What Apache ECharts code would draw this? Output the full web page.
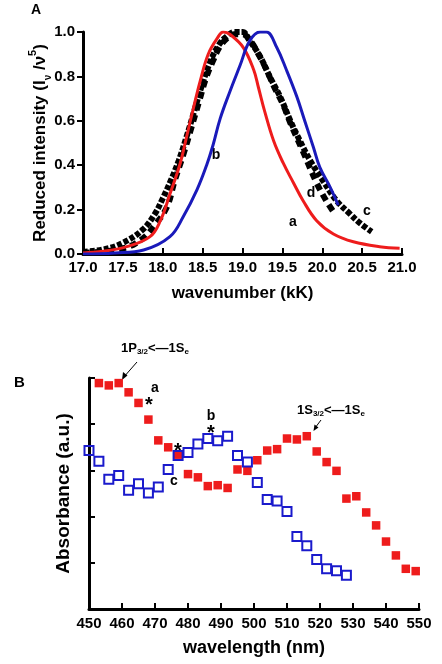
<!DOCTYPE html>
<html><head><meta charset="utf-8">
<script src="https://cdn.jsdelivr.net/npm/echarts@6/dist/echarts.min.js"></script>
<style>html,body{margin:0;padding:0;background:#fff}#c{width:442px;height:664px}</style>
</head><body><div id="c"></div>
<script>
// Panel A: reduced intensity curves
const aX = [17.0, 17.25, 17.55, 17.84, 17.97, 18.09, 18.22, 18.30, 18.38, 18.47, 18.57, 18.68, 18.76, 18.84, 19.01, 19.14, 19.20, 19.28, 19.39, 19.51, 19.64, 19.76, 19.93, 20.14, 20.39, 20.72, 20.97];
const aY = [0.005, 0.012, 0.033, 0.078, 0.15, 0.27, 0.41, 0.53, 0.65, 0.78, 0.90, 0.97, 1.0, 0.99, 0.93, 0.83, 0.75, 0.64, 0.51, 0.41, 0.32, 0.24, 0.15, 0.09, 0.055, 0.033, 0.026];
const bX = [17.0, 17.4, 17.76, 18.09, 18.26, 18.43, 18.55, 18.63, 18.72, 18.84, 18.97, 19.09, 19.22, 19.30, 19.43, 19.55, 19.68, 19.78, 19.89, 19.97, 20.1, 20.2];
const bY = [0.0, 0.005, 0.018, 0.078, 0.17, 0.29, 0.40, 0.49, 0.61, 0.73, 0.85, 0.96, 1.0, 1.0, 0.93, 0.83, 0.71, 0.60, 0.48, 0.39, 0.30, 0.22];
const cX = [17.0, 17.25, 17.5, 17.75, 17.9, 18.0, 18.1, 18.2, 18.3, 18.4, 18.5, 18.6, 18.7, 18.8, 18.9, 19.0, 19.09, 19.22, 19.34, 19.47, 19.6, 19.72, 19.85, 20.01, 20.18, 20.35, 20.47, 20.62];
const cY = [0.01, 0.02, 0.05, 0.11, 0.18, 0.25, 0.33, 0.42, 0.53, 0.65, 0.77, 0.87, 0.94, 0.98, 1.0, 1.0, 0.96, 0.89, 0.80, 0.71, 0.60, 0.51, 0.42, 0.33, 0.24, 0.18, 0.14, 0.10];
const dX = [17.0, 17.5, 17.75, 17.9, 18.05, 18.15, 18.26, 18.36, 18.45, 18.55, 18.63, 18.71, 18.8, 18.9, 19.0, 19.1, 19.2, 19.3, 19.4, 19.5, 19.6, 19.76, 19.93, 20.05, 20.16];
const dY = [0.005, 0.025, 0.07, 0.13, 0.21, 0.33, 0.45, 0.57, 0.68, 0.80, 0.87, 0.93, 0.97, 0.99, 0.99, 0.96, 0.90, 0.83, 0.75, 0.68, 0.59, 0.46, 0.32, 0.24, 0.18];
const aTicks = ['17.0','17.5','18.0','18.5','19.0','19.5','20.0','20.5','21.0'];

// Panel B: absorbance
const redX = [453, 456, 459, 462, 465, 468, 471, 474, 477, 480, 483, 486, 489, 492, 495, 498, 501, 504, 507, 510, 513, 516, 519, 522, 525, 528, 531, 534, 537, 540, 543, 546, 549];
const redY = [4.89, 4.84, 4.89, 4.69, 4.46, 4.10, 3.65, 3.50, 3.34, 2.92, 2.85, 2.66, 2.68, 2.62, 3.02, 2.99, 3.22, 3.43, 3.46, 3.69, 3.67, 3.74, 3.41, 3.18, 2.99, 2.39, 2.44, 2.09, 1.81, 1.46, 1.16, 0.87, 0.82];
const blueX = [450, 453, 456, 459, 462, 465, 468, 471, 474, 477, 480, 483, 486, 489, 492, 495, 498, 501, 504, 507, 510, 513, 516, 519, 522, 525, 528];
const blueY = [3.43, 3.20, 2.81, 2.89, 2.57, 2.71, 2.51, 2.64, 3.02, 3.32, 3.39, 3.57, 3.69, 3.64, 3.74, 3.32, 3.18, 2.74, 2.37, 2.34, 2.11, 1.57, 1.37, 1.07, 0.87, 0.83, 0.73];

const zip = (xs, ys) => xs.map((x, i) => [x, ys[i]]);
const FF = '"Liberation Sans", Arial, sans-serif';
const bold = { fontFamily: FF, fontWeight: 'bold', color: '#000' };

const chart = echarts.init(document.getElementById('c'), null, { renderer: 'canvas' });
const option = {
  backgroundColor: '#fff',
  animation: false,
  grid: [
    { left: 83, top: 32, width: 319, height: 222 },
    { left: 89, top: 378, width: 330, height: 231 }
  ],
  xAxis: [
    { gridIndex: 0, type: 'value', min: 17, max: 21, interval: 0.5,
      name: 'wavenumber (kK)', nameLocation: 'middle', nameGap: 31, nameMoveOverlap: false,
      nameTextStyle: Object.assign({ fontSize: 17 }, bold),
      axisLine: { lineStyle: { color: '#000', width: 3 } },
      axisTick: { inside: true, length: 6, lineStyle: { color: '#000', width: 2 } },
      axisLabel: Object.assign({ fontSize: 15, margin: 6, formatter: v => aTicks[Math.round((v - 17) / 0.5)] }, bold),
      splitLine: { show: false } },
    { gridIndex: 1, type: 'value', min: 450, max: 550, interval: 10,
      name: 'wavelength (nm)', nameLocation: 'middle', nameGap: 30, nameMoveOverlap: false,
      nameTextStyle: Object.assign({ fontSize: 18 }, bold),
      axisLine: { lineStyle: { color: '#000', width: 3 } },
      axisTick: { inside: true, length: 6, lineStyle: { color: '#000', width: 2 } },
      axisLabel: Object.assign({ fontSize: 15, margin: 7 }, bold),
      splitLine: { show: false } }
  ],
  yAxis: [
    { gridIndex: 0, type: 'value', min: 0, max: 1, interval: 0.2,
      name: '{t|Reduced intensity (I}{sub|ν}{t| /ν}{sup|5}{t|)}', nameLocation: 'middle', nameGap: 30, nameRotate: 90, nameMoveOverlap: false,
      nameTextStyle: Object.assign({ fontSize: 17, rich: {
        t: Object.assign({ fontSize: 17, lineHeight: 20 }, bold),
        sub: Object.assign({ fontSize: 10, verticalAlign: 'bottom', lineHeight: 14 }, bold),
        sup: Object.assign({ fontSize: 11, verticalAlign: 'top', lineHeight: 26 }, bold)
      } }, bold),
      axisLine: { lineStyle: { color: '#000', width: 3 } },
      axisTick: { inside: false, length: 6, lineStyle: { color: '#000', width: 2 } },
      axisLabel: Object.assign({ fontSize: 15, margin: 8, formatter: v => v.toFixed(1) }, bold),
      splitLine: { show: false } },
    { gridIndex: 1, type: 'value', min: 0, max: 5, interval: 1,
      name: 'Absorbance (a.u.)', nameLocation: 'middle', nameGap: 16, nameRotate: 90, nameMoveOverlap: false,
      nameTextStyle: Object.assign({ fontSize: 19 }, bold),
      axisLine: { lineStyle: { color: '#000', width: 3 } },
      axisTick: { inside: true, length: 6, lineStyle: { color: '#000', width: 2 } },
      axisLabel: { show: false },
      splitLine: { show: false } }
  ],
  series: [
    { name: 'c', type: 'line', xAxisIndex: 0, yAxisIndex: 0, data: zip(cX, cY), smooth: 0.4, showSymbol: false,
      lineStyle: { color: '#000', width: 6, type: [5, 2], cap: 'butt' } },
    { name: 'd', type: 'line', xAxisIndex: 0, yAxisIndex: 0, data: zip(dX, dY), smooth: 0.4, showSymbol: false,
      lineStyle: { color: '#000', width: 6, type: [7, 5], cap: 'butt' } },
    { name: 'a', type: 'line', xAxisIndex: 0, yAxisIndex: 0, data: zip(aX, aY), smooth: 0.4, showSymbol: false,
      lineStyle: { color: '#ee1c1c', width: 3 } },
    { name: 'b', type: 'line', xAxisIndex: 0, yAxisIndex: 0, data: zip(bX, bY), smooth: 0.4, showSymbol: false,
      lineStyle: { color: '#1a1aba', width: 3 } },
    { name: 'red', type: 'scatter', xAxisIndex: 1, yAxisIndex: 1, data: zip(redX, redY), symbol: 'rect', symbolSize: 8.5,
      itemStyle: { color: '#ee1c1c', opacity: 1 } },
    { name: 'blue', type: 'scatter', xAxisIndex: 1, yAxisIndex: 1, data: zip(blueX, blueY), symbol: 'rect', symbolSize: 9,
      itemStyle: { color: 'rgba(0,0,0,0)', borderColor: '#1a1acc', borderWidth: 2, opacity: 1 } }
  ],
  graphic: [
    { type: 'text', left: 31, top: 3, style: Object.assign({ text: 'A', fontSize: 14 }, bold, { fill: '#000' }) },
    { type: 'text', left: 14, top: 375, style: Object.assign({ text: 'B', fontSize: 15 }, bold, { fill: '#000' }) },
    { type: 'text', x: 293, y: 222, style: { text: 'a', font: 'bold 14px ' + FF, fill: '#000', align: 'center', verticalAlign: 'middle' } },
    { type: 'text', x: 216, y: 155, style: { text: 'b', font: 'bold 14px ' + FF, fill: '#000', align: 'center', verticalAlign: 'middle' } },
    { type: 'text', x: 367, y: 211, style: { text: 'c', font: 'bold 14px ' + FF, fill: '#000', align: 'center', verticalAlign: 'middle' } },
    { type: 'text', x: 311, y: 193, style: { text: 'd', font: 'bold 14px ' + FF, fill: '#000', align: 'center', verticalAlign: 'middle' } },
    { type: 'text', x: 155, y: 388, style: { text: 'a', font: 'bold 14px ' + FF, fill: '#000', align: 'center', verticalAlign: 'middle' } },
    { type: 'text', x: 211, y: 416, style: { text: 'b', font: 'bold 14px ' + FF, fill: '#000', align: 'center', verticalAlign: 'middle' } },
    { type: 'text', x: 174, y: 481, style: { text: 'c', font: 'bold 14px ' + FF, fill: '#000', align: 'center', verticalAlign: 'middle' } },
    { type: 'text', x: 149, y: 405, style: { text: '*', font: 'bold 20px ' + FF, fill: '#000', align: 'center', verticalAlign: 'middle' } },
    { type: 'text', x: 178, y: 451, style: { text: '*', font: 'bold 20px ' + FF, fill: '#000', align: 'center', verticalAlign: 'middle' } },
    { type: 'text', x: 211, y: 433, style: { text: '*', font: 'bold 20px ' + FF, fill: '#000', align: 'center', verticalAlign: 'middle' } },
    { type: 'text', x: 121, y: 341, style: { text: '{m|1P}{s|3/2}{m|<\u20141S}{s|e}', rich: {
        m: { font: 'bold 13px ' + FF, fill: '#000', lineHeight: 15 },
        s: { font: 'bold 8px ' + FF, fill: '#000', verticalAlign: 'bottom', lineHeight: 11 } } } },
    { type: 'text', x: 297, y: 403, style: { text: '{m|1S}{s|3/2}{m|<\u20141S}{s|e}', rich: {
        m: { font: 'bold 13px ' + FF, fill: '#000', lineHeight: 15 },
        s: { font: 'bold 8px ' + FF, fill: '#000', verticalAlign: 'bottom', lineHeight: 11 } } } },
    { type: 'line', shape: { x1: 137, y1: 362, x2: 123, y2: 378 }, style: { stroke: '#000', lineWidth: 1 } },
    { type: 'polygon', shape: { points: [[122, 380], [127.5, 375.5], [123, 372]] }, style: { fill: '#000' } },
    { type: 'line', shape: { x1: 321, y1: 420, x2: 315, y2: 428 }, style: { stroke: '#000', lineWidth: 1 } },
    { type: 'polygon', shape: { points: [[313.5, 431], [318.5, 427.5], [314.5, 424.5]] }, style: { fill: '#000' } }
  ]
};
chart.setOption(option);
</script>
</body></html>
